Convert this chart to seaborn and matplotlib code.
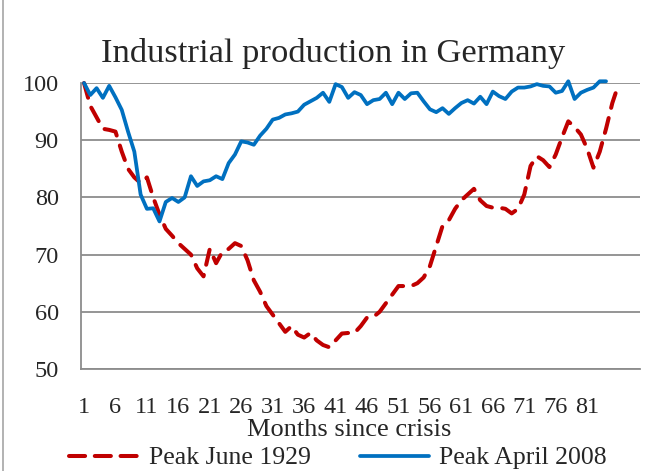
import matplotlib
matplotlib.use("Agg")
import matplotlib.pyplot as plt
import seaborn as sns
import pandas as pd
from matplotlib.lines import Line2D

# ---- data ----
title = "Industrial production in Germany"
xlabel = "Months since crisis"
label_1929 = "Peak June 1929"
label_2008 = "Peak April 2008"

peak_1929 = [100, 96, 94, 92, 91.8, 91.5, 88, 85, 83.5, 82.5,
             83.5, 80, 77, 74.5, 73.3, 72, 71, 70, 67.6, 66.2,
             71, 68.5, 70.5, 71, 72, 71.5, 69, 65.5, 63.5, 61,
             59.5, 58, 56.5, 57.5, 56, 55.5, 56.3, 55, 54.2, 53.8,
             55, 56.2, 56.3, 56.3, 57.5, 59, 59.1, 60, 61.5, 63,
             64.5, 64.5, 64.5, 65, 66, 68, 71.5, 75, 76, 78,
             79.5, 80.5, 81.5, 79.5, 78.5, 78.2, 78.2, 78, 77.2, 78,
             80.5, 85.5, 87.2, 86.5, 85.3, 87.5, 90.5, 93.3, 92.3, 91,
             88.5, 85.2, 88, 92, 96.5, 99.8]

peak_2008 = [100, 97.9, 99.1, 97.4, 99.5, 97.5, 95.3, 91.5, 88, 80.5,
             78, 78.1, 75.8, 79.2, 79.9, 79.2, 80, 83.7, 82, 82.8,
             83, 83.7, 83.2, 86, 87.5, 89.8, 89.6, 89.2, 90.8, 92,
             93.6, 93.9, 94.5, 94.7, 95, 96.2, 96.8, 97.4, 98.3, 96.7,
             99.8, 99.3, 97.4, 98.4, 97.9, 96.3, 97, 97.2, 98.3, 96.3,
             98.3, 97.2, 98.2, 98.3, 96.8, 95.4, 94.9, 95.6, 94.6, 95.6,
             96.5, 97, 96.4, 97.6, 96.3, 98.5, 97.7, 97.2, 98.5, 99.2,
             99.2, 99.4, 99.8, 99.5, 99.4, 98.3, 98.6, 100.3, 97.2, 98.3,
             98.8, 99.2, 100.3, 100.3]

x_ticks = list(range(1, 82, 5))
y_ticks = [50, 60, 70, 80, 90, 100]

df29 = pd.DataFrame({"month": range(1, len(peak_1929) + 1), "value": peak_1929})
df08 = pd.DataFrame({"month": range(1, len(peak_2008) + 1), "value": peak_2008})

# ---- style ----
sns.set_style("white")
serif = "Liberation Serif"
plt.rcParams["font.family"] = [serif, "DejaVu Sans"]

RED = "#C00000"
BLUE = "#0070C0"
GRID = "#8C8C8C"
LW_RED = 2.9
LW_BLUE = 2.7

fig = plt.figure(figsize=(6.5, 4.71), dpi=100)
ax = fig.add_axes([81 / 650, 1 - 369 / 471, (640 - 81) / 650, (369 - 83) / 471])

sns.lineplot(data=df29, x="month", y="value", ax=ax, color=RED, linewidth=LW_RED,
             label=label_1929, clip_on=False)
sns.lineplot(data=df08, x="month", y="value", ax=ax, color=BLUE, linewidth=LW_BLUE,
             label=label_2008, clip_on=False)
l29 = ax.lines[0]
l29.set_dashes([3.8, 2.6])
l29.set_dash_capstyle("round")

ax.set_xlim(0.52, 89.4)
ax.set_ylim(50, 100)
ax.set_xticks(x_ticks)
ax.set_yticks(y_ticks)
ax.set_xticklabels([str(t) for t in x_ticks], fontsize=17.5)
ax.set_yticklabels([str(t) for t in y_ticks], fontsize=17.5)
ax.tick_params(axis="x", length=0, pad=20)
ax.tick_params(axis="y", length=6, width=1.3, color=GRID, pad=10)

ax.grid(axis="y", color=GRID, linewidth=1.3)
ax.grid(axis="x", visible=False)
for s in ["top", "right"]:
    ax.spines[s].set_visible(False)
ax.spines["left"].set_color(GRID)
ax.spines["left"].set_linewidth(1.3)
ax.spines["bottom"].set_color(GRID)
ax.spines["bottom"].set_linewidth(1.3)
ax.set_axisbelow(True)

ax.set_xlabel(xlabel, fontsize=19)
ax.xaxis.set_label_coords((349 - 81) / 559, -(419 - 369) / 286)
ax.xaxis.label.set_verticalalignment("top")
ax.set_ylabel("")

ax.get_legend().remove()
handles = [Line2D([], [], color=RED, linewidth=LW_RED, dashes=[4.0, 2.4], dash_capstyle="round"),
           Line2D([], [], color=BLUE, linewidth=LW_BLUE)]
fig.legend(handles, [label_1929, label_2008], loc="center", ncol=2,
           bbox_to_anchor=(338 / 650, 1 - 458 / 471), frameon=False,
           fontsize=18.5, handlelength=2.7, handletextpad=0.4, columnspacing=1.9,
           borderaxespad=0, borderpad=0)

fig.text(333 / 650, 1 - 62 / 471, title, ha="center", va="baseline", fontsize=24.8)

fig.add_artist(Line2D([2.5 / 650, 2.5 / 650], [0, 1], color="#A6A6A6", linewidth=1.2))

fig.savefig("out.png", dpi=100)
